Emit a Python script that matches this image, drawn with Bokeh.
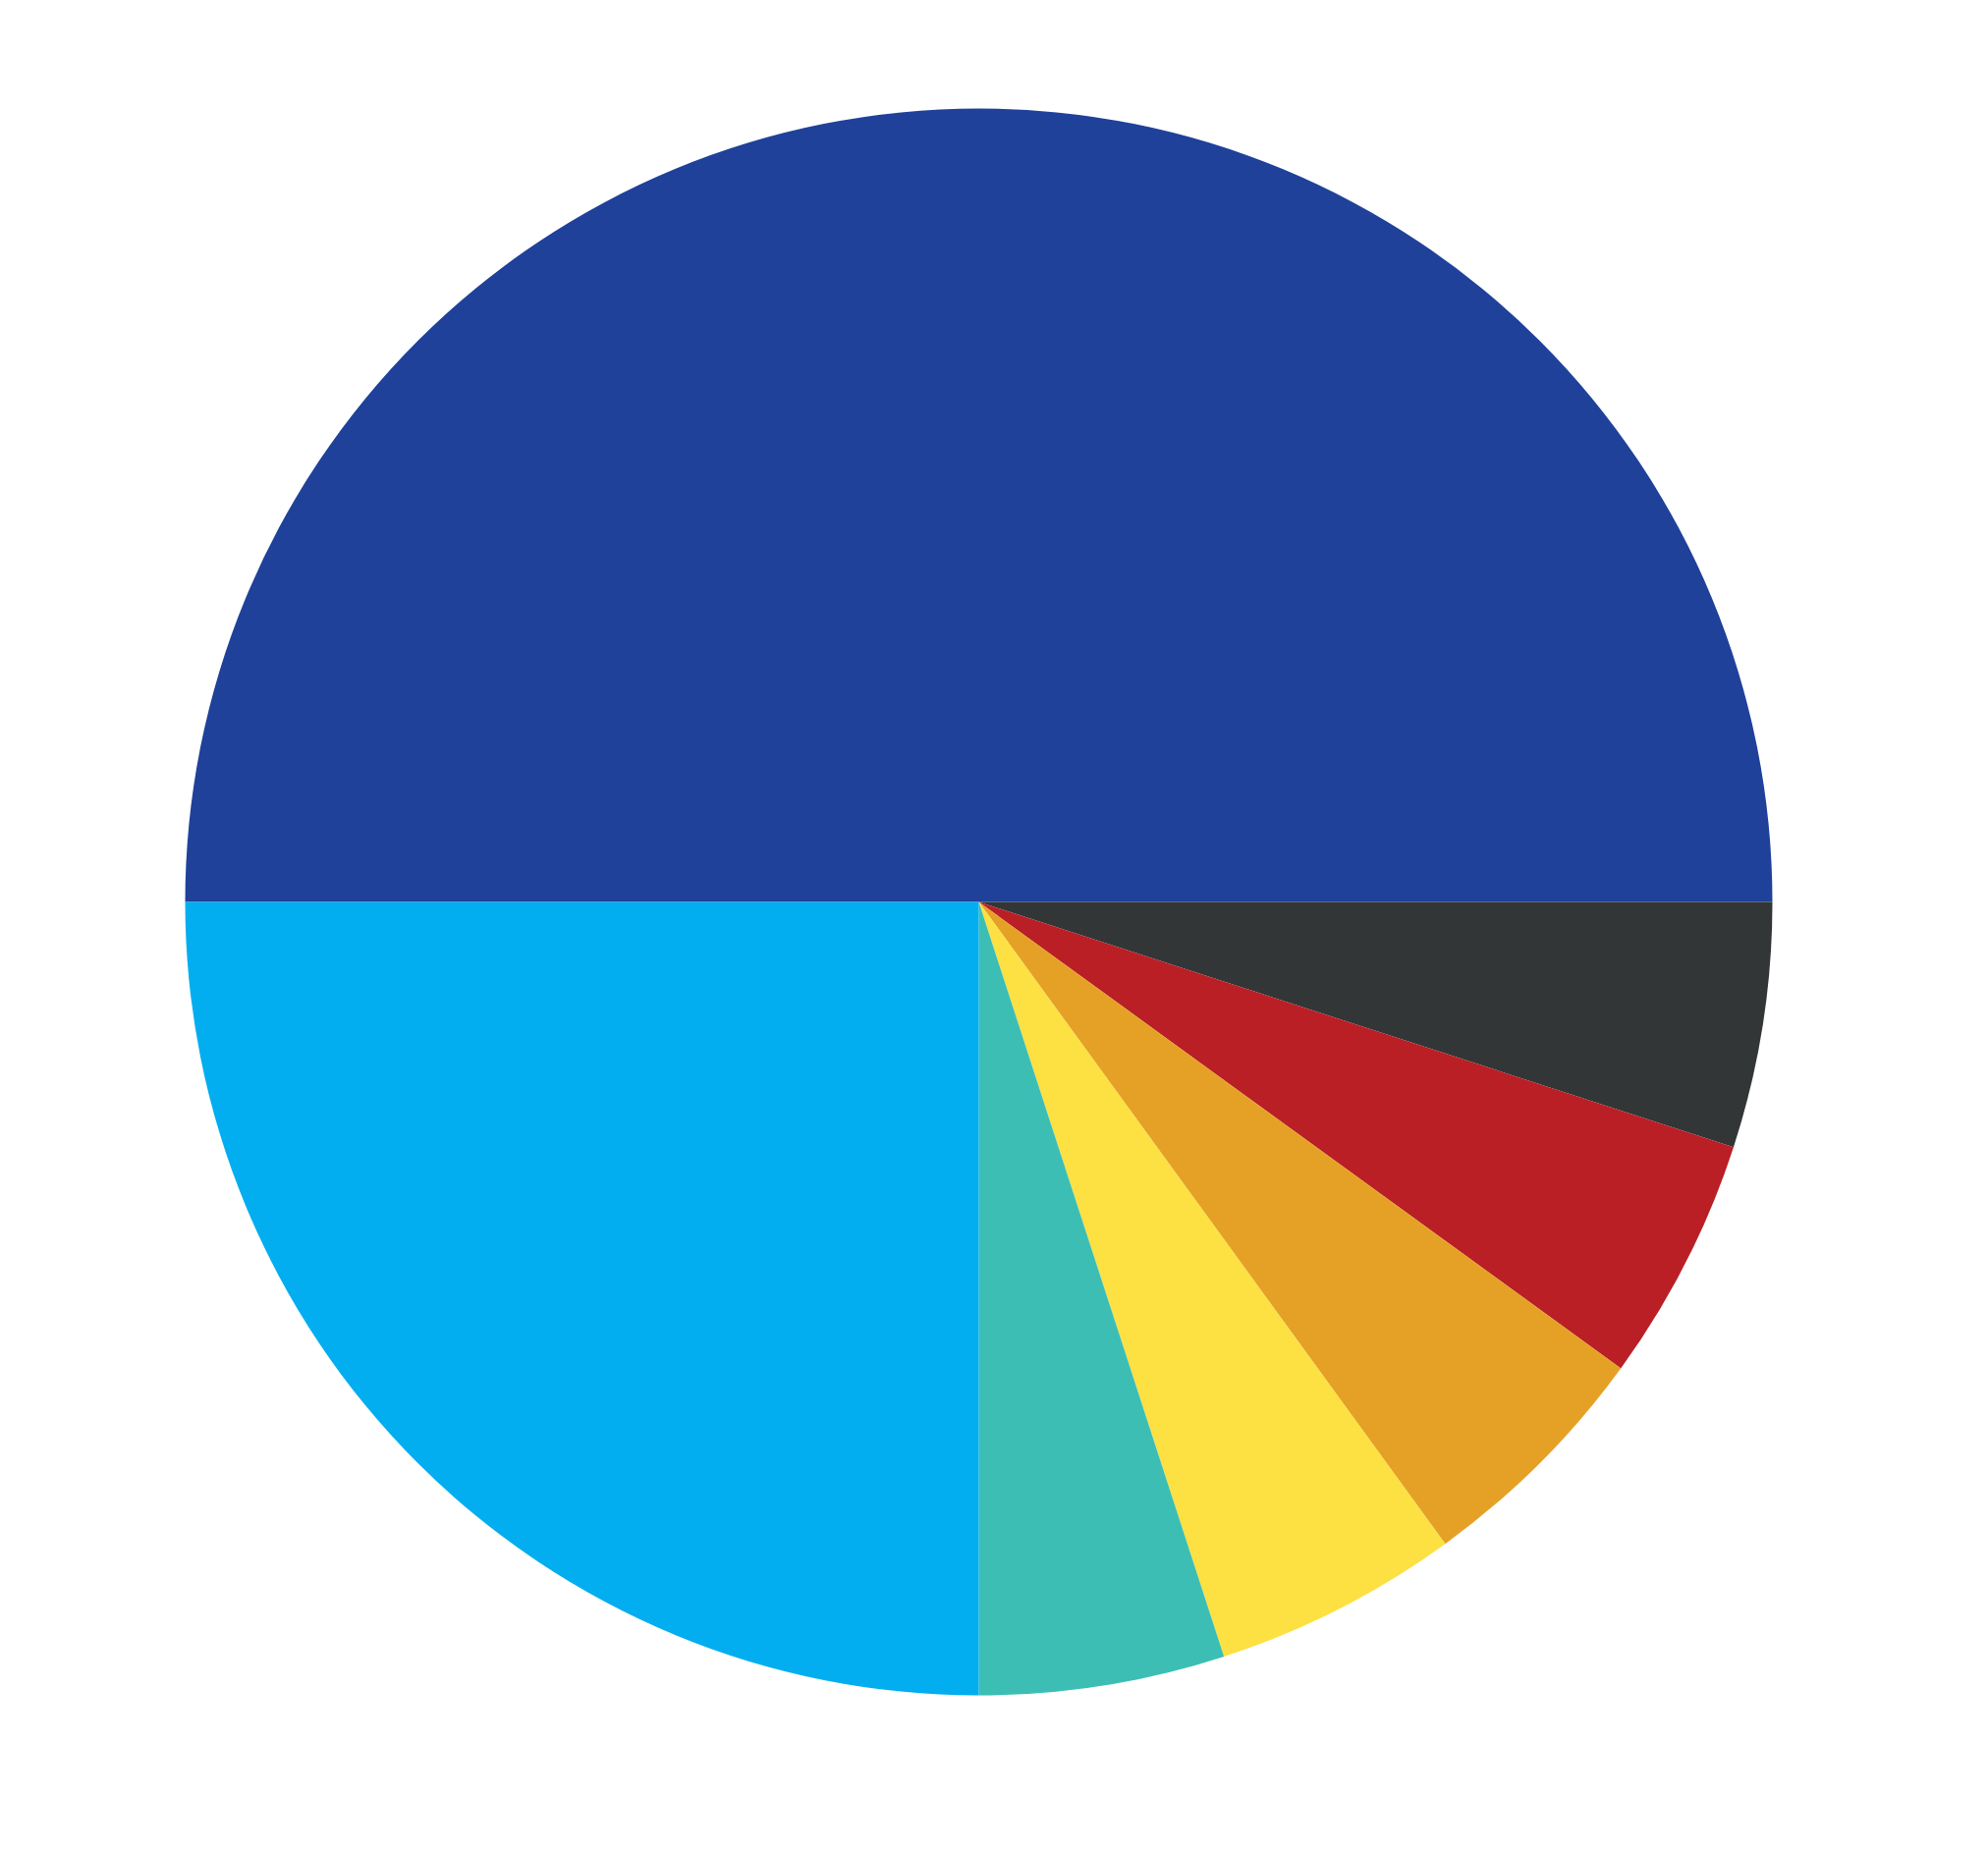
import math
from bokeh.plotting import figure
from bokeh.models import Range1d, ColumnDataSource
from bokeh.embed import file_html
from bokeh.resources import INLINE

# Data
categories = ["A", "B", "C", "D", "E", "F", "G"]
values = [50, 5, 5, 5, 5, 5, 25]
colors = ["#1F419A", "#323637", "#B91F25", "#E5A126", "#FDE042", "#3CBEB4", "#02AEEF"]

W, H = 2000, 1860
cx, cy, r = 996, H - 918, 808

total = sum(values)
starts, ends = [], []
a_span = values[0] / total * 2 * math.pi
starts.append(0.0)
ends.append(a_span)
cur = 2 * math.pi
for v in values[1:]:
    span = v / total * 2 * math.pi
    ends.append(cur)
    starts.append(cur - span)
    cur -= span

src = ColumnDataSource(dict(cat=categories, value=values, color=colors,
                            start=starts, end=ends,
                            x=[cx] * len(values), y=[cy] * len(values)))

p = figure(width=W, height=H, output_backend="svg", toolbar_location=None,
           x_range=Range1d(0, W), y_range=Range1d(0, H), min_border=0)
p.wedge(x="x", y="y", radius=r, start_angle="start", end_angle="end",
        fill_color="color", line_color=None, source=src)
p.axis.visible = False
p.grid.visible = False
p.outline_line_color = None
p.background_fill_color = "white"

open("out.html", "w").write(file_html(p, INLINE))
